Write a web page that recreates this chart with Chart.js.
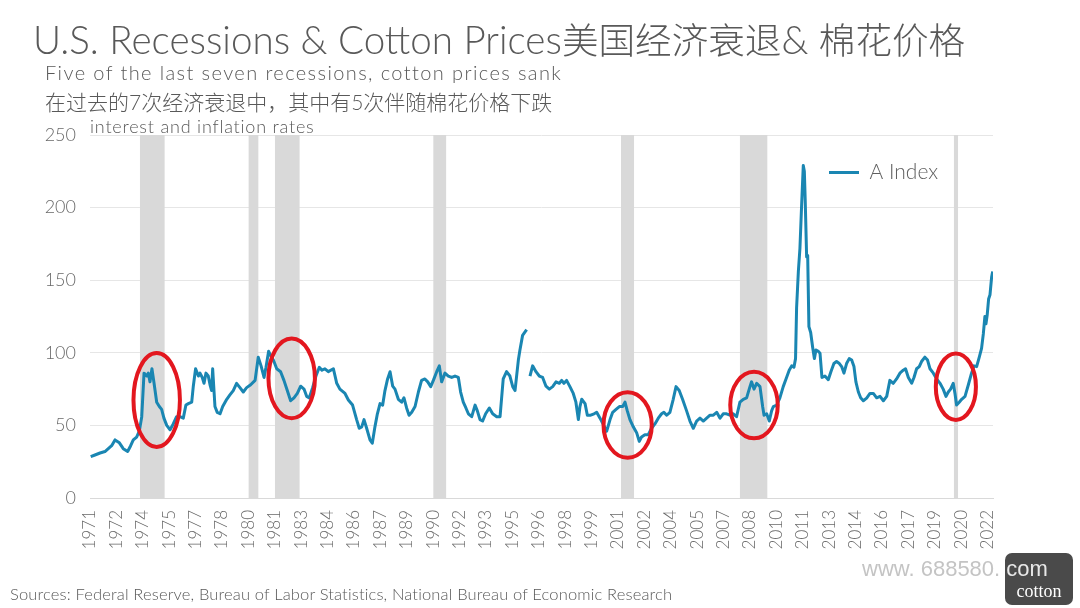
<!DOCTYPE html>
<html><head><meta charset="utf-8">
<script src="https://cdn.jsdelivr.net/npm/chart.js@4.4.0/dist/chart.umd.min.js"></script>
<style>
html,body{margin:0;padding:0;background:#fff;}
#wrap{position:relative;width:1080px;height:608px;overflow:hidden;background:#fff;}
#c{position:absolute;left:0;top:0;}
.t{position:absolute;white-space:nowrap;color:#595959;font-family:Lato,"Noto Sans CJK SC",sans-serif;font-weight:300;line-height:1;}
.cjk{font-family:"Noto Sans CJK SC",sans-serif;font-weight:300;}
#logo{position:absolute;left:1005px;top:553px;width:68px;height:52px;background:#4a4a4a;border-radius:7px;}
#logo span{position:absolute;left:0;right:0;bottom:5px;text-align:center;color:#fff;font-family:"Liberation Serif",serif;font-size:18px;line-height:1;}
#wm{position:absolute;left:862px;top:558px;font-family:"Liberation Sans",Arial,sans-serif;font-size:22px;color:#c4c4c4;white-space:nowrap;line-height:1;}
#wm span{color:#e8e8e8;}
</style></head><body>
<div id="wrap">
<canvas id="c" width="1080" height="608"></canvas>
<div class="t" style="left:33px;top:20px;font-size:38.6px;">U.S. Recessions &amp; Cotton Prices<span class="cjk" style="font-size:36.6px;">美国经济衰退</span>&amp; <span class="cjk" style="font-size:36.6px;">棉花价格</span></div>
<div class="t" style="left:45px;top:62px;font-size:20px;letter-spacing:1.4px;">Five of the last seven recessions, cotton prices sank</div>
<div class="t" style="left:45px;top:91px;font-size:21px;">在过去的7次经济衰退中，其中有5次伴随棉花价格下跌</div>
<div class="t" style="left:90px;top:117px;font-size:18px;letter-spacing:0.8px;">interest and inflation rates</div>
<div class="t" style="left:10px;top:586px;font-size:16.5px;letter-spacing:0.15px;">Sources: Federal Reserve, Bureau of Labor Statistics, National Bureau of Economic Research</div>
<div id="logo"><span>cotton</span></div>
<div id="wm">www. 688580. <span>com</span></div>
</div>
<script>
// ---- data ----
const aIndexDates = [
1971.04,1971.28,1971.57,1971.85,1972.04,1972.23,1972.42,1972.67,1972.89,1973.14,
1973.31,1973.46,1973.65,1973.80,1973.94,1974.07,1974.22,1974.31,1974.41,1974.52,
1974.64,1974.79,1974.94,1975.07,1975.20,1975.36,1975.55,1975.73,1975.92,1976.11,
1976.30,1976.45,1976.59,1976.78,1976.87,1977.00,1977.16,1977.25,1977.38,1977.48,
1977.59,1977.72,1977.82,1977.91,1977.97,1978.10,1978.23,1978.39,1978.54,1978.77,
1978.95,1979.14,1979.33,1979.52,1979.71,1979.90,1980.13,1980.38,1980.56,1980.72,
1980.89,1981.00,1981.15,1981.27,1981.42,1981.61,1981.83,1982.02,1982.21,1982.40,
1982.59,1982.78,1982.97,1983.16,1983.31,1983.46,1983.65,1983.84,1984.03,1984.18,
1984.35,1984.54,1984.83,1985.02,1985.20,
1985.49,1985.68,1985.92,1986.15,1986.30,1986.44,1986.57,1986.72,1986.91,1987.04,
1987.19,1987.33,1987.48,1987.63,1987.76,1987.91,1988.05,1988.20,1988.33,1988.52,
1988.71,1988.84,1988.99,1989.13,1989.28,1989.47,1989.66,1989.84,1990.03,1990.19,
1990.36,1990.51,1990.70,1990.85,1990.98,1991.17,1991.36,1991.55,1991.74,1991.93,
1992.06,1992.21,1992.36,1992.50,1992.69,1992.88,1993.01,1993.16,1993.31,1993.48,
1993.69,1993.88,1994.11,1994.30,1994.48,1994.67,1994.86,1995.02,1995.15,1995.34,
1995.43,1995.58,1995.81,1995.90,
1996.00,1996.15,1996.34,1996.53,1996.72,1996.91,1997.10,1997.29,1997.48,1997.67,
1997.80,1997.93,1998.08,1998.27,1998.46,1998.61,1998.75,1998.84,1998.94,1999.13,
1999.26,1999.45,1999.64,1999.79,1999.98,2000.17,2000.36,2000.55,2000.70,2000.89,
2001.08,2001.27,2001.40,2001.53,2001.68,2001.87,2002.06,2002.21,2002.34,2002.53,
2002.72,2002.91,2003.10,2003.29,2003.48,2003.61,2003.77,2003.95,2004.14,2004.30,
2004.48,2004.67,2004.90,2005.09,2005.28,2005.47,2005.66,
2005.85,2006.04,2006.23,2006.42,2006.61,2006.80,2006.98,2007.17,2007.36,2007.55,
2007.74,2007.93,2008.12,2008.31,2008.50,2008.59,2008.73,2008.88,2009.07,2009.22,
2009.30,2009.45,2009.60,2009.73,2009.83,2010.02,2010.20,2010.39,2010.58,2010.73,
2010.87,2011.00,2011.09,2011.15,2011.25,2011.34,2011.43,2011.53,2011.59,2011.64,
2011.72,2011.78,2011.85,2011.95,2012.06,2012.16,2012.25,2012.38,2012.48,2012.59,
2012.76,2012.95,2013.10,2013.27,2013.42,2013.58,2013.71,2013.84,2013.99,2014.14,
2014.28,2014.41,2014.52,2014.66,2014.79,2014.94,2015.13,2015.32,2015.51,2015.70,
2015.89,2016.08,2016.27,2016.45,2016.64,2016.83,2017.02,2017.21,2017.34,2017.50,
2017.69,2017.82,2017.97,2018.12,2018.25,2018.44,2018.59,2018.73,2018.92,2019.11,
2019.30,2019.48,2019.64,2019.77,2019.90,2020.05,2020.15,2020.24,2020.39,2020.53,
2020.72,2020.91,2021.09,2021.23,2021.38,2021.53,2021.66,2021.76,2021.85,2021.91,
2021.98,2022.06,2022.14,2022.23,2022.29
];
const aIndexValues = [
28.5,29.6,31,32,34,36,40,38,34,32,
36,40,42,46,56,86,84,86,80,89,
79,66,63,61,55,50,47,51,56,56,
55,64,65,66,77,89,84,86,83,79,
86,84,78,74,89,63,59,58,63,68,
71,74,79,76,73,76,78,81,97,91,
83,90,101,98,95,89,87,81,74,67,
69,72,77,75,70,69,76,84,90,88,
89,87,89,79,75,
72,67.5,64,54,48,49,54,48,40,37.7,
49,58,65,64,74,82,87,77,75,68,
66,69,62,57,59,63,73,81,82,80,
76.7,81,87,91,80,86,84,83,84,83,
73,66,62,58,56,64,60,54,53,58,
62,58,56,56,82,87,84,76.7,74,95,
102,112,116,null,
84,91,87,84,83,77,75,76.7,80,79,
81,79,81,76.7,72,66,54,63,68,65,
57,57,58,59,55,50.5,46,54,59,61,
63,63,66,60,54,49,45,39,42,43.6,
43.6,48,51,55,58,59,57,59,68,76.7,
74,68,60,53,48,53,55,
53,55,57,57,59,55,58,58,57,58,
56,66,68,69,76.7,80,75,79,76.7,63,
57,58,53,60,63,64,69,76.7,83,88,
91,90,96,131,156,172,200,229,225,205,
166,167,118,114,104,96,102,101,99.7,83,
84,81.5,87,92.6,94,92.6,90.5,86,92.6,96,
95,90.5,80,73,69,67,68.8,72,72,69,
70,67,70,81,79,82,86,88,89,83,
79,83,89,90.5,94,97,95,89,86,82,
79,75,70,73,75,79,72,64,66,68,
70,78,86,91,90.5,97,103,113,125,120,
126,137,140,152,156
];
const recessionStarts = [1973.83, 1980.0, 1981.5, 1990.5, 2001.17, 2007.92, 2020.08];
const recessionEnds   = [1975.25, 1980.58, 1982.92, 1991.25, 2001.92, 2009.5, 2020.33];
const tickPositions = [1971,1972.5,1974,1975.5,1977,1978.5,1980,1981.5,1983,1984.5,1986,1987.5,1989,1990.5,1992,1993.5,1995,1996.5,1998,1999.5,2001,2002.5,2004,2005.5,2007,2008.5,2010,2011.5,2013,2014.5,2016,2017.5,2019,2020.5,2022];
const tickLabels = ['1971','1972','1974','1975','1977','1978','1980','1981','1983','1984','1986','1987','1989','1990','1992','1993','1995','1996','1998','1999','2001','2002','2004','2005','2007','2008','2010','2011','2013','2014','2016','2017','2019','2020','2022'];
const seriesName = 'A Index';
// highlighted episodes (centre year, centre value, half-width in years, half-height in index points)
const highlightX = [1974.79, 1982.46, 2001.55, 2008.73, 2020.2];
const highlightY = [67.5, 82.4, 50.3, 64, 76.7];
const highlightRX = [1.32, 1.32, 1.37, 1.35, 1.14];
const highlightRY = [32.3, 27.5, 22.6, 22.9, 22.9];

// ---- chart ----
Chart.defaults.font.family = 'Lato, "Noto Sans", sans-serif';
Chart.defaults.font.weight = 300;
Chart.defaults.color = '#5f5f5f';

const lineData = aIndexDates.map((d, i) => ({x: d, y: aIndexValues[i]}));
const datasets = [{
  label: seriesName,
  data: lineData,
  borderColor: '#1a86b2',
  backgroundColor: '#1a86b2',
  borderWidth: 3,
  pointRadius: 0,
  tension: 0,
  spanGaps: false,
  fill: false,
  borderJoinStyle: 'round',
  order: 1
}];
recessionStarts.forEach((s, i) => {
  datasets.push({
    label: 'Recession',
    data: [{x: s, y: 250}, {x: recessionEnds[i], y: 250}],
    borderWidth: 0,
    borderColor: 'rgba(0,0,0,0)',
    backgroundColor: '#d9d9d9',
    pointRadius: 0,
    fill: 'origin',
    order: 5
  });
});

const ellipsePlugin = {
  id: 'ellipses',
  afterDatasetsDraw(chart) {
    const {ctx, scales: {x, y}} = chart;
    ctx.save();
    ctx.strokeStyle = '#e3171f';
    ctx.lineWidth = 4;
    highlightX.forEach((cxv, i) => {
      const cx = x.getPixelForValue(cxv);
      const cy = y.getPixelForValue(highlightY[i]);
      const rx = x.getPixelForValue(cxv + highlightRX[i]) - cx;
      const ry = cy - y.getPixelForValue(highlightY[i] + highlightRY[i]);
      ctx.beginPath();
      ctx.ellipse(cx, cy, rx, ry, 0, 0, Math.PI * 2);
      ctx.stroke();
    });
    ctx.restore();
  }
};
const legendPlacer = {
  id: 'legendPlacer',
  afterLayout(chart) {
    const lg = chart.legend;
    if (!lg) return;
    const w = lg.width, h = lg.height;
    lg.left = chart.chartArea.right - 174;
    lg.top = chart.chartArea.top + 17;
    lg.right = lg.left + w;
    lg.bottom = lg.top + h;
  }
};

new Chart(document.getElementById('c'), {
  type: 'line',
  data: {datasets},
  plugins: [ellipsePlugin, legendPlacer],
  options: {
    responsive: false,
    animation: false,
    devicePixelRatio: 1,
    layout: {padding: {top: 135, right: 87, left: 0, bottom: 0}},
    plugins: {
      title: {display: false},
      tooltip: {enabled: false},
      legend: {
        position: 'chartArea',
        align: 'start',
        labels: {
          filter: (item) => item.datasetIndex === 0,
          usePointStyle: true,
          pointStyle: 'line',
          pointStyleWidth: 30,
          color: '#5f5f5f',
          padding: 10,
          font: {size: 21, weight: 300}
        }
      }
    },
    scales: {
      x: {
        type: 'linear',
        min: 1971,
        max: 2022.31,
        afterFit(s) { s.height = 110; },
        afterBuildTicks(s) { s.ticks = tickPositions.map(v => ({value: v})); },
        grid: {display: false, drawTicks: false},
        border: {display: true, color: '#d9d9d9', width: 1},
        ticks: {
          autoSkip: false,
          minRotation: 90,
          maxRotation: 90,
          padding: 12,
          color: '#6a6a6a',
          font: {size: 17, weight: 300},
          callback: (v, i) => tickLabels[i]
        }
      },
      y: {
        min: 0,
        max: 250,
        afterFit(s) { s.width = 90; },
        grid: {color: '#e6e6e6', drawTicks: false, lineWidth: 1},
        border: {display: false},
        ticks: {stepSize: 50, padding: 14, color: '#6a6a6a', font: {size: 18, weight: 300}}
      }
    }
  }
});
</script>
</body></html>
